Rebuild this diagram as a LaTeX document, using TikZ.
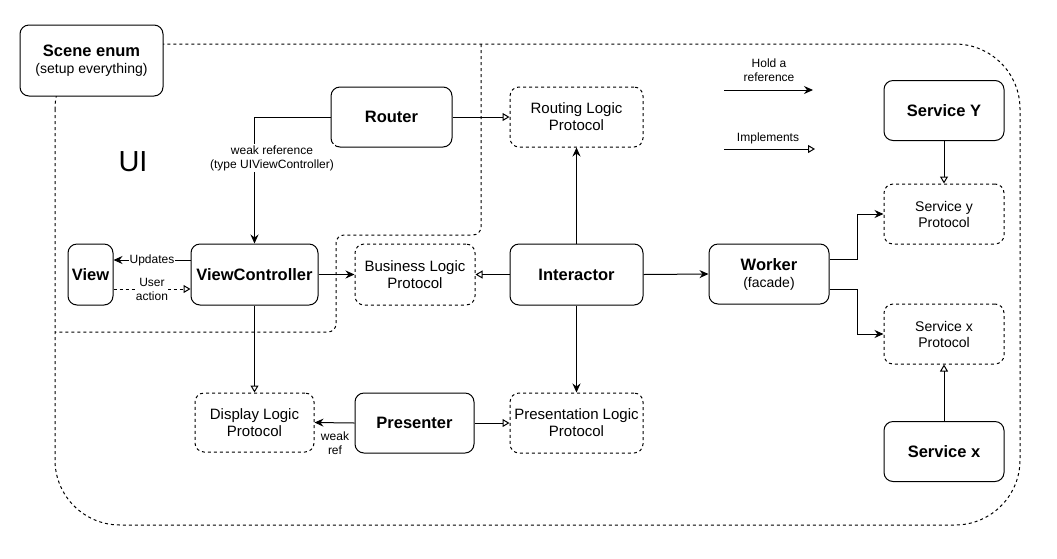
\documentclass[tikz,border=0pt]{standalone}
\usepackage{fontspec}
\setmainfont{Liberation Sans}
\usetikzlibrary{arrows.meta,positioning}
\tikzset{
  box/.style={draw, line width=1pt, rounded corners=9pt, inner sep=0pt, align=center, fill=white},
  proto/.style={box, dashed, dash pattern=on 3pt off 3pt},
  ttl/.style={font=\fontsize{16.5}{19}\selectfont\bfseries},
  ptx/.style={font=\fontsize{15}{17}\selectfont},
  stx/.style={font=\fontsize{14}{16}\selectfont},
  lbl/.style={font=\fontsize{12}{14}\selectfont, align=center, inner sep=1pt},
  ref/.style={line width=1pt, -{Stealth[length=9pt,width=8pt,inset=3pt]}},
  impl/.style={line width=1pt, -{Triangle[open,length=7pt,width=8pt]}},
  region/.style={line width=1pt, dash pattern=on 3pt off 3pt},
}
\begin{document}
\begin{tikzpicture}[x=1pt,y=-1pt]
\useasboundingbox (0,0) rectangle (1057,558);
% outer dashed region
\draw[region, rounded corners=65pt] (55,44) rectangle (1020,525);
% UI region
\draw[region, rounded corners=8pt] (481,44) -- (481,235) -- (336,235) -- (336,332) -- (55,332);
\node[font=\fontsize{29}{32}\selectfont] (ui) at (133,162) {UI};

% nodes
\node[box, minimum width=143pt, minimum height=71pt, font=\fontsize{14}{17}\selectfont] (scene) at (91.5,60.5) {{\fontsize{16.5}{19}\selectfont\bfseries Scene enum}\\(setup everything)};
\node[box, ttl, minimum width=121pt, minimum height=60pt] (router) at (391.5,117) {Router};
\node[proto, ptx, minimum width=133pt, minimum height=60pt] (routing) at (576.5,117) {Routing Logic\\Protocol};
\node[box, ttl, minimum width=45pt, minimum height=61pt] (view) at (90.5,274.5) {View};
\node[box, ttl, minimum width=127pt, minimum height=61pt] (vc) at (254.5,274.5) {ViewController};
\node[proto, ptx, minimum width=120pt, minimum height=61pt] (blp) at (415,274.5) {Business Logic\\Protocol};
\node[box, ttl, minimum width=133pt, minimum height=61pt] (interactor) at (576.5,274.5) {Interactor};
\node[box, minimum width=120pt, minimum height=60pt, font=\fontsize{14}{17}\selectfont] (worker) at (769,274) {{\fontsize{16.5}{19}\selectfont\bfseries Worker}\\(facade)};
\node[proto, ptx, minimum width=119pt, minimum height=59pt] (display) at (254.5,422.5) {Display Logic\\Protocol};
\node[box, ttl, minimum width=119pt, minimum height=60pt] (presenter) at (414.5,423) {Presenter};
\node[proto, ptx, minimum width=133pt, minimum height=60pt] (presentation) at (576.5,423) {Presentation Logic\\Protocol};
\node[box, ttl, minimum width=120pt, minimum height=60pt] (servY) at (944,110.5) {Service Y};
\node[proto, stx, minimum width=120pt, minimum height=60pt] (syp) at (944,214) {Service y\\Protocol};
\node[proto, stx, minimum width=120pt, minimum height=60pt] (sxp) at (944,334) {Service x\\Protocol};
\node[box, ttl, minimum width=120pt, minimum height=60pt] (servX) at (944,451.5) {Service x};

% connectors
\draw[ref] (router.west) -| (vc.north);
\node[lbl, fill=white] (wr) at (272,158) {weak reference\\(type UIViewController)};
\draw[impl] (router.east) -- (routing.west);

\draw[ref] ([yshift=14.5pt]vc.west) -- ([yshift=14.5pt]view.east) node[midway, lbl, fill=white] (upd) {Updates};
\draw[impl, dash pattern=on 3pt off 3pt] ([yshift=-14.5pt]view.east) -- ([yshift=-14.5pt]vc.west) node[midway, lbl, fill=white, inner sep=0pt] (ua) {User\\action};

\draw[ref] (vc.east) -- (blp.west);
\draw[impl] (interactor.west) -- (blp.east);
\draw[ref] (interactor.north) -- (routing.south);
\draw[ref] (interactor.south) -- (presentation.north);
\draw[ref] (interactor.east) -- (worker.west);

\draw[impl] (vc.south) -- (display.north);
\draw[ref] (presenter.west) -- (display.east);
\node[lbl] (wref) at (335,443) {weak\\ref};
\draw[impl] (presenter.east) -- (presentation.west);

\draw[ref] ([yshift=15pt]worker.east) -- (857,259) |- (syp.west);
\draw[ref] ([yshift=-15pt]worker.east) -- (857,289) |- (sxp.west);
\draw[impl] (servY.south) -- (syp.north);
\draw[impl] (servX.north) -- (sxp.south);

% legend
\coordinate (l1a) at (724,90);
\coordinate (l1b) at (813,90);
\coordinate (l2a) at (724,149);
\coordinate (l2b) at (815,149);
\draw[ref] (l1a) -- (l1b);
\draw[impl] (l2a) -- (l2b);
\node[lbl] (hold) at (769,70) {Hold a\\reference};
\node[lbl] (impltxt) at (768,138) {Implements};
\end{tikzpicture}
\end{document}
